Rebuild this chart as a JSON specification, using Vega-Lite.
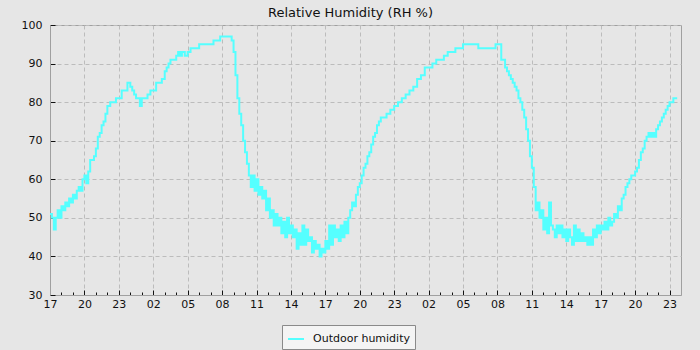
{
"$schema": "https://vega.github.io/schema/vega-lite/v6.json",
"width": 631, "height": 270,
"autosize": "none",
"padding": {"left": 50, "top": 25, "right": 19, "bottom": 55},
"background": "#e6e6e6",
"title": {"text": "Relative Humidity (RH %)", "font": "DejaVu Sans", "fontSize": 13, "fontWeight": "normal", "color": "#111111", "anchor": "middle", "dx": -15, "dy": 9, "offset": 8},
"config": {"view": {"stroke": "#a0a0a0", "strokeWidth": 1, "fill": "#e6e6e6"}},
"data": {"values": [
{"t":"2024-01-01T17:00","rh":51},{"t":"2024-01-01T17:10","rh":50},{"t":"2024-01-01T17:20","rh":47},{"t":"2024-01-01T17:30","rh":50},{"t":"2024-01-01T17:40","rh":52},{"t":"2024-01-01T17:50","rh":50},
{"t":"2024-01-01T18:00","rh":53},{"t":"2024-01-01T18:10","rh":52},{"t":"2024-01-01T18:20","rh":54},{"t":"2024-01-01T18:30","rh":53},{"t":"2024-01-01T18:40","rh":55},{"t":"2024-01-01T18:50","rh":54},
{"t":"2024-01-01T19:00","rh":56},{"t":"2024-01-01T19:10","rh":55},{"t":"2024-01-01T19:20","rh":57},{"t":"2024-01-01T19:30","rh":58},{"t":"2024-01-01T19:40","rh":57},{"t":"2024-01-01T19:50","rh":60},
{"t":"2024-01-01T20:00","rh":61},{"t":"2024-01-01T20:10","rh":59},{"t":"2024-01-01T20:20","rh":62},{"t":"2024-01-01T20:30","rh":65},{"t":"2024-01-01T20:40","rh":65},{"t":"2024-01-01T20:50","rh":66},
{"t":"2024-01-01T21:00","rh":68},{"t":"2024-01-01T21:10","rh":71},{"t":"2024-01-01T21:20","rh":72},{"t":"2024-01-01T21:30","rh":74},{"t":"2024-01-01T21:40","rh":75},{"t":"2024-01-01T21:50","rh":77},
{"t":"2024-01-01T22:00","rh":79},{"t":"2024-01-01T22:15","rh":80},{"t":"2024-01-01T22:30","rh":80},{"t":"2024-01-01T22:45","rh":81},
{"t":"2024-01-01T23:00","rh":81},{"t":"2024-01-01T23:15","rh":83},{"t":"2024-01-01T23:30","rh":83},{"t":"2024-01-01T23:45","rh":85},{"t":"2024-01-01T23:55","rh":85},
{"t":"2024-01-02T00:00","rh":84},{"t":"2024-01-02T00:10","rh":83},{"t":"2024-01-02T00:20","rh":82},{"t":"2024-01-02T00:30","rh":81},{"t":"2024-01-02T00:40","rh":81},{"t":"2024-01-02T00:50","rh":79},
{"t":"2024-01-02T01:00","rh":81},{"t":"2024-01-02T01:15","rh":81},{"t":"2024-01-02T01:30","rh":82},{"t":"2024-01-02T01:45","rh":83},
{"t":"2024-01-02T02:00","rh":83},{"t":"2024-01-02T02:15","rh":85},{"t":"2024-01-02T02:30","rh":85},{"t":"2024-01-02T02:45","rh":86},
{"t":"2024-01-02T03:00","rh":88},{"t":"2024-01-02T03:10","rh":89},{"t":"2024-01-02T03:20","rh":90},{"t":"2024-01-02T03:30","rh":91},{"t":"2024-01-02T03:45","rh":91},
{"t":"2024-01-02T04:00","rh":92},{"t":"2024-01-02T04:10","rh":93},{"t":"2024-01-02T04:20","rh":92},{"t":"2024-01-02T04:30","rh":93},{"t":"2024-01-02T04:45","rh":92},
{"t":"2024-01-02T05:00","rh":93},{"t":"2024-01-02T05:15","rh":94},{"t":"2024-01-02T05:30","rh":94},{"t":"2024-01-02T05:45","rh":94},
{"t":"2024-01-02T06:00","rh":95},{"t":"2024-01-02T06:20","rh":95},{"t":"2024-01-02T06:40","rh":95},
{"t":"2024-01-02T07:00","rh":95},{"t":"2024-01-02T07:15","rh":96},{"t":"2024-01-02T07:30","rh":96},{"t":"2024-01-02T07:50","rh":97},
{"t":"2024-01-02T08:00","rh":97},{"t":"2024-01-02T08:20","rh":97},{"t":"2024-01-02T08:40","rh":97},{"t":"2024-01-02T08:50","rh":96},
{"t":"2024-01-02T09:00","rh":93},{"t":"2024-01-02T09:10","rh":87},{"t":"2024-01-02T09:20","rh":81},{"t":"2024-01-02T09:30","rh":77},{"t":"2024-01-02T09:40","rh":74},{"t":"2024-01-02T09:50","rh":70},
{"t":"2024-01-02T10:00","rh":67},{"t":"2024-01-02T10:10","rh":64},{"t":"2024-01-02T10:20","rh":61},{"t":"2024-01-02T10:30","rh":58},{"t":"2024-01-02T10:40","rh":61},{"t":"2024-01-02T10:50","rh":57},
{"t":"2024-01-02T11:00","rh":60},{"t":"2024-01-02T11:10","rh":56},{"t":"2024-01-02T11:20","rh":58},{"t":"2024-01-02T11:30","rh":55},{"t":"2024-01-02T11:40","rh":57},{"t":"2024-01-02T11:50","rh":52},
{"t":"2024-01-02T12:00","rh":55},{"t":"2024-01-02T12:10","rh":50},{"t":"2024-01-02T12:20","rh":52},{"t":"2024-01-02T12:30","rh":48},{"t":"2024-01-02T12:40","rh":51},{"t":"2024-01-02T12:50","rh":48},
{"t":"2024-01-02T13:00","rh":50},{"t":"2024-01-02T13:10","rh":46},{"t":"2024-01-02T13:20","rh":49},{"t":"2024-01-02T13:30","rh":45},{"t":"2024-01-02T13:40","rh":50},{"t":"2024-01-02T13:50","rh":46},
{"t":"2024-01-02T14:00","rh":48},{"t":"2024-01-02T14:10","rh":45},{"t":"2024-01-02T14:20","rh":47},{"t":"2024-01-02T14:30","rh":42},{"t":"2024-01-02T14:40","rh":46},{"t":"2024-01-02T14:50","rh":43},
{"t":"2024-01-02T15:00","rh":48},{"t":"2024-01-02T15:10","rh":43},{"t":"2024-01-02T15:20","rh":47},{"t":"2024-01-02T15:30","rh":44},{"t":"2024-01-02T15:40","rh":45},{"t":"2024-01-02T15:50","rh":41},
{"t":"2024-01-02T16:00","rh":44},{"t":"2024-01-02T16:10","rh":42},{"t":"2024-01-02T16:20","rh":43},{"t":"2024-01-02T16:30","rh":40},{"t":"2024-01-02T16:40","rh":42},{"t":"2024-01-02T16:50","rh":41},
{"t":"2024-01-02T17:00","rh":44},{"t":"2024-01-02T17:10","rh":42},{"t":"2024-01-02T17:20","rh":48},{"t":"2024-01-02T17:30","rh":43},{"t":"2024-01-02T17:40","rh":48},{"t":"2024-01-02T17:50","rh":45},
{"t":"2024-01-02T18:00","rh":47},{"t":"2024-01-02T18:10","rh":44},{"t":"2024-01-02T18:20","rh":48},{"t":"2024-01-02T18:30","rh":45},{"t":"2024-01-02T18:40","rh":49},{"t":"2024-01-02T18:50","rh":46},
{"t":"2024-01-02T19:00","rh":50},{"t":"2024-01-02T19:10","rh":52},{"t":"2024-01-02T19:20","rh":54},{"t":"2024-01-02T19:30","rh":53},{"t":"2024-01-02T19:40","rh":56},{"t":"2024-01-02T19:50","rh":58},
{"t":"2024-01-02T20:00","rh":59},{"t":"2024-01-02T20:10","rh":61},{"t":"2024-01-02T20:20","rh":63},{"t":"2024-01-02T20:30","rh":64},{"t":"2024-01-02T20:40","rh":66},{"t":"2024-01-02T20:50","rh":67},
{"t":"2024-01-02T21:00","rh":69},{"t":"2024-01-02T21:10","rh":71},{"t":"2024-01-02T21:20","rh":72},{"t":"2024-01-02T21:30","rh":74},{"t":"2024-01-02T21:40","rh":75},{"t":"2024-01-02T21:50","rh":76},
{"t":"2024-01-02T22:00","rh":76},{"t":"2024-01-02T22:20","rh":77},{"t":"2024-01-02T22:40","rh":78},
{"t":"2024-01-02T23:00","rh":79},{"t":"2024-01-02T23:20","rh":80},{"t":"2024-01-02T23:40","rh":81},
{"t":"2024-01-03T00:00","rh":82},{"t":"2024-01-03T00:20","rh":83},{"t":"2024-01-03T00:40","rh":84},
{"t":"2024-01-03T01:00","rh":86},{"t":"2024-01-03T01:20","rh":87},{"t":"2024-01-03T01:40","rh":89},
{"t":"2024-01-03T02:00","rh":89},{"t":"2024-01-03T02:20","rh":90},{"t":"2024-01-03T02:40","rh":91},
{"t":"2024-01-03T03:00","rh":91},{"t":"2024-01-03T03:20","rh":92},{"t":"2024-01-03T03:40","rh":93},
{"t":"2024-01-03T04:00","rh":93},{"t":"2024-01-03T04:20","rh":94},{"t":"2024-01-03T04:40","rh":94},
{"t":"2024-01-03T05:00","rh":95},{"t":"2024-01-03T05:20","rh":95},{"t":"2024-01-03T05:40","rh":95},
{"t":"2024-01-03T06:00","rh":95},{"t":"2024-01-03T06:20","rh":94},{"t":"2024-01-03T06:40","rh":94},
{"t":"2024-01-03T07:00","rh":94},{"t":"2024-01-03T07:20","rh":94},{"t":"2024-01-03T07:40","rh":94},{"t":"2024-01-03T07:50","rh":95},
{"t":"2024-01-03T08:00","rh":95},{"t":"2024-01-03T08:10","rh":95},{"t":"2024-01-03T08:20","rh":91},{"t":"2024-01-03T08:30","rh":91},{"t":"2024-01-03T08:40","rh":89},{"t":"2024-01-03T08:50","rh":88},
{"t":"2024-01-03T09:00","rh":87},{"t":"2024-01-03T09:10","rh":86},{"t":"2024-01-03T09:20","rh":85},{"t":"2024-01-03T09:30","rh":84},{"t":"2024-01-03T09:40","rh":83},{"t":"2024-01-03T09:50","rh":81},
{"t":"2024-01-03T10:00","rh":80},{"t":"2024-01-03T10:10","rh":78},{"t":"2024-01-03T10:20","rh":76},{"t":"2024-01-03T10:30","rh":73},{"t":"2024-01-03T10:40","rh":70},{"t":"2024-01-03T10:50","rh":66},
{"t":"2024-01-03T11:00","rh":63},{"t":"2024-01-03T11:10","rh":58},{"t":"2024-01-03T11:20","rh":52},{"t":"2024-01-03T11:30","rh":54},{"t":"2024-01-03T11:40","rh":50},{"t":"2024-01-03T11:50","rh":52},
{"t":"2024-01-03T12:00","rh":47},{"t":"2024-01-03T12:10","rh":50},{"t":"2024-01-03T12:20","rh":46},{"t":"2024-01-03T12:30","rh":54},{"t":"2024-01-03T12:40","rh":48},{"t":"2024-01-03T12:50","rh":47},
{"t":"2024-01-03T13:00","rh":45},{"t":"2024-01-03T13:10","rh":48},{"t":"2024-01-03T13:20","rh":46},{"t":"2024-01-03T13:30","rh":48},{"t":"2024-01-03T13:40","rh":45},{"t":"2024-01-03T13:50","rh":47},
{"t":"2024-01-03T14:00","rh":44},{"t":"2024-01-03T14:10","rh":47},{"t":"2024-01-03T14:20","rh":45},{"t":"2024-01-03T14:30","rh":43},{"t":"2024-01-03T14:40","rh":48},{"t":"2024-01-03T14:50","rh":44},
{"t":"2024-01-03T15:00","rh":47},{"t":"2024-01-03T15:10","rh":44},{"t":"2024-01-03T15:20","rh":46},{"t":"2024-01-03T15:30","rh":44},{"t":"2024-01-03T15:40","rh":45},{"t":"2024-01-03T15:50","rh":43},
{"t":"2024-01-03T16:00","rh":45},{"t":"2024-01-03T16:10","rh":43},{"t":"2024-01-03T16:20","rh":47},{"t":"2024-01-03T16:30","rh":45},{"t":"2024-01-03T16:40","rh":48},{"t":"2024-01-03T16:50","rh":46},
{"t":"2024-01-03T17:00","rh":48},{"t":"2024-01-03T17:10","rh":47},{"t":"2024-01-03T17:20","rh":49},{"t":"2024-01-03T17:30","rh":47},{"t":"2024-01-03T17:40","rh":50},{"t":"2024-01-03T17:50","rh":48},
{"t":"2024-01-03T18:00","rh":49},{"t":"2024-01-03T18:10","rh":51},{"t":"2024-01-03T18:20","rh":50},{"t":"2024-01-03T18:30","rh":53},{"t":"2024-01-03T18:40","rh":52},{"t":"2024-01-03T18:50","rh":55},
{"t":"2024-01-03T19:00","rh":56},{"t":"2024-01-03T19:10","rh":58},{"t":"2024-01-03T19:20","rh":59},{"t":"2024-01-03T19:30","rh":60},{"t":"2024-01-03T19:40","rh":61},{"t":"2024-01-03T19:50","rh":61},
{"t":"2024-01-03T20:00","rh":62},{"t":"2024-01-03T20:10","rh":63},{"t":"2024-01-03T20:20","rh":65},{"t":"2024-01-03T20:30","rh":67},{"t":"2024-01-03T20:40","rh":68},{"t":"2024-01-03T20:50","rh":70},
{"t":"2024-01-03T21:00","rh":71},{"t":"2024-01-03T21:10","rh":72},{"t":"2024-01-03T21:20","rh":71},{"t":"2024-01-03T21:30","rh":72},{"t":"2024-01-03T21:40","rh":71},{"t":"2024-01-03T21:50","rh":73},
{"t":"2024-01-03T22:00","rh":74},{"t":"2024-01-03T22:10","rh":75},{"t":"2024-01-03T22:20","rh":76},{"t":"2024-01-03T22:30","rh":77},{"t":"2024-01-03T22:40","rh":78},{"t":"2024-01-03T22:50","rh":79},
{"t":"2024-01-03T23:00","rh":80},{"t":"2024-01-03T23:10","rh":80},{"t":"2024-01-03T23:20","rh":81},{"t":"2024-01-03T23:30","rh":81},{"t":"2024-01-03T23:40","rh":81}
]},
"mark": {"type": "line", "interpolate": "step-after", "strokeWidth": 2},
"encoding": {
  "x": {"field": "t", "type": "temporal",
    "scale": {"domain": ["2024-01-01T17:00", "2024-01-04T00:00"], "nice": false},
    "axis": {"title": null, "format": "%H", "labelOverlap": false, "labelFlush": false,
      "values": ["2024-01-01T17:00", "2024-01-01T18:00", "2024-01-01T19:00", "2024-01-01T20:00", "2024-01-01T21:00", "2024-01-01T22:00", "2024-01-01T23:00",
        "2024-01-02T00:00", "2024-01-02T01:00", "2024-01-02T02:00", "2024-01-02T03:00", "2024-01-02T04:00", "2024-01-02T05:00", "2024-01-02T06:00", "2024-01-02T07:00", "2024-01-02T08:00", "2024-01-02T09:00", "2024-01-02T10:00", "2024-01-02T11:00", "2024-01-02T12:00",
        "2024-01-02T13:00", "2024-01-02T14:00", "2024-01-02T15:00", "2024-01-02T16:00", "2024-01-02T17:00", "2024-01-02T18:00", "2024-01-02T19:00", "2024-01-02T20:00", "2024-01-02T21:00", "2024-01-02T22:00", "2024-01-02T23:00",
        "2024-01-03T00:00", "2024-01-03T01:00", "2024-01-03T02:00", "2024-01-03T03:00", "2024-01-03T04:00", "2024-01-03T05:00", "2024-01-03T06:00", "2024-01-03T07:00", "2024-01-03T08:00", "2024-01-03T09:00", "2024-01-03T10:00", "2024-01-03T11:00", "2024-01-03T12:00",
        "2024-01-03T13:00", "2024-01-03T14:00", "2024-01-03T15:00", "2024-01-03T16:00", "2024-01-03T17:00", "2024-01-03T18:00", "2024-01-03T19:00", "2024-01-03T20:00", "2024-01-03T21:00", "2024-01-03T22:00", "2024-01-03T23:00"],
      "labelExpr": "indexof(['17','20','23','02','05','08','11','14'], datum.label) >= 0 ? datum.label : ''",
      "labelFont": "DejaVu Sans", "labelFontSize": 11, "labelColor": "#111111", "labelPadding": 8,
      "tickColor": "#111111", "tickSize": {"condition": {"test": "hours(datum.value) % 3 == 2", "value": -5}, "value": -3},
      "domainColor": "#a0a0a0", "grid": true, "gridColor": "#bcbcbc", "gridDash": [4, 3],
      "gridOpacity": {"condition": {"test": "hours(datum.value) % 3 == 2", "value": 1}, "value": 0}}},
  "y": {"field": "rh", "type": "quantitative",
    "scale": {"domain": [30, 100], "nice": false},
    "axis": {"title": null, "values": [30, 40, 50, 60, 70, 80, 90, 100], "labelFont": "DejaVu Sans", "labelFontSize": 11, "labelColor": "#111111", "labelPadding": 13,
      "tickColor": "#111111", "tickSize": -5, "domainColor": "#a0a0a0", "grid": true, "gridColor": "#bcbcbc", "gridDash": [4, 3]}},
  "color": {"datum": "Outdoor humidity", "type": "nominal", "scale": {"range": ["#55ffff"]},
    "legend": {"orient": "none", "legendX": 232, "legendY": 300, "title": null, "symbolType": "stroke", "symbolStrokeWidth": 2, "symbolSize": 256,
      "labelFont": "DejaVu Sans", "labelFontSize": 11, "labelColor": "#111111", "labelOffset": 8, "fillColor": "#f4f4f4", "strokeColor": "#8a8a8a", "padding": 5}}
}
}
